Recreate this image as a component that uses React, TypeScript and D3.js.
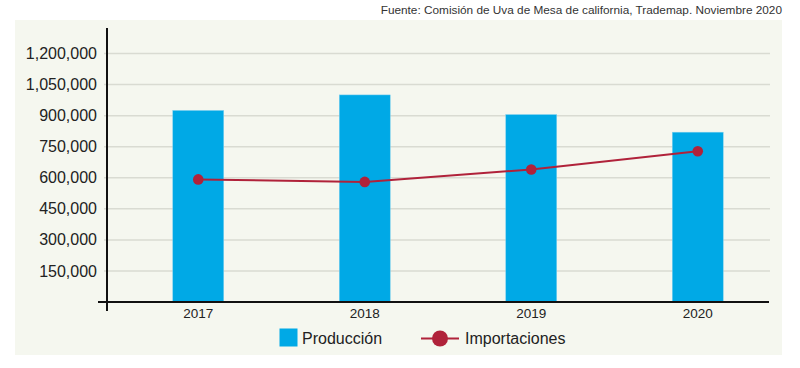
import React from "react";
import * as d3 from "d3";

const years = ["2017", "2018", "2019", "2020"];
const produccion = [925000, 1000000, 905000, 820000];
const importaciones = [592000, 580000, 640000, 728000];
const yTicks = [150000, 300000, 450000, 600000, 750000, 900000, 1050000, 1200000];
const sourceText = "Fuente: Comisión de Uva de Mesa de california, Trademap. Noviembre 2020";
const legendLabels = ["Producción", "Importaciones"];

const W = 800;
const H = 368;
const FONT = "'Liberation Sans', Arial, Helvetica, sans-serif";
const BAR = "#00a9e6";
const LINE = "#b0223a";

export default function App() {
  const x = d3
    .scaleBand<string>()
    .domain(years)
    .range([115, 781])
    .paddingInner(0.694)
    .paddingOuter(0.347);
  const y = d3.scaleLinear().domain([0, 1200000]).range([302, 53.5]);
  const fmt = d3.format(",");
  const cx = (d: string) => (x(d) as number) + x.bandwidth() / 2;
  const lineGen = d3
    .line<number>()
    .x((_, i) => cx(years[i]))
    .y((v) => y(v));

  return (
    <svg
      width={W}
      height={H}
      style={{ position: "absolute", left: 0, top: 0, display: "block" }}
      fontFamily={FONT}
    >
      <rect x={0} y={0} width={W} height={H} fill="#ffffff" />
      <text x={782} y={14} textAnchor="end" fontSize={11.8} fill="#333">
        {sourceText}
      </text>
      <rect x={15} y={20} width={767} height={335} fill="#f5f7ef" />
      {yTicks.map((t) => (
        <g key={t}>
          <line x1={104} x2={770} y1={y(t)} y2={y(t)} stroke="#d9dbd2" strokeWidth={1.5} />
          <text x={97} y={y(t)} dy="0.35em" textAnchor="end" fontSize={16} fill="#222">
            {fmt(t)}
          </text>
        </g>
      ))}
      {years.map((yr, i) => (
        <rect
          key={yr}
          x={x(yr)}
          y={y(produccion[i])}
          width={x.bandwidth()}
          height={y(0) - y(produccion[i])}
          fill={BAR}
          stroke="#7fd0ef"
          strokeWidth={0.5}
        />
      ))}
      <line x1={107} x2={107} y1={28} y2={311} stroke="#111" strokeWidth={2} />
      <line x1={98} x2={769} y1={302} y2={302} stroke="#111" strokeWidth={2} />
      {years.map((yr) => (
        <text key={yr} x={cx(yr)} y={318} textAnchor="middle" fontSize={13.5} fill="#222">
          {yr}
        </text>
      ))}
      <path d={lineGen(importaciones) || ""} fill="none" stroke={LINE} strokeWidth={2} />
      {years.map((yr, i) => (
        <circle key={yr} cx={cx(yr)} cy={y(importaciones[i])} r={5.3} fill={LINE} />
      ))}
      <rect x={279.5} y={328.5} width={18} height={18} fill={BAR} />
      <text x={302} y={344} fontSize={16} fill="#222">
        {legendLabels[0]}
      </text>
      <line x1={421} x2={459} y1={338.5} y2={338.5} stroke={LINE} strokeWidth={2} />
      <circle cx={440} cy={338.5} r={8} fill={LINE} />
      <text x={465} y={344} fontSize={16} fill="#222">
        {legendLabels[1]}
      </text>
    </svg>
  );
}
